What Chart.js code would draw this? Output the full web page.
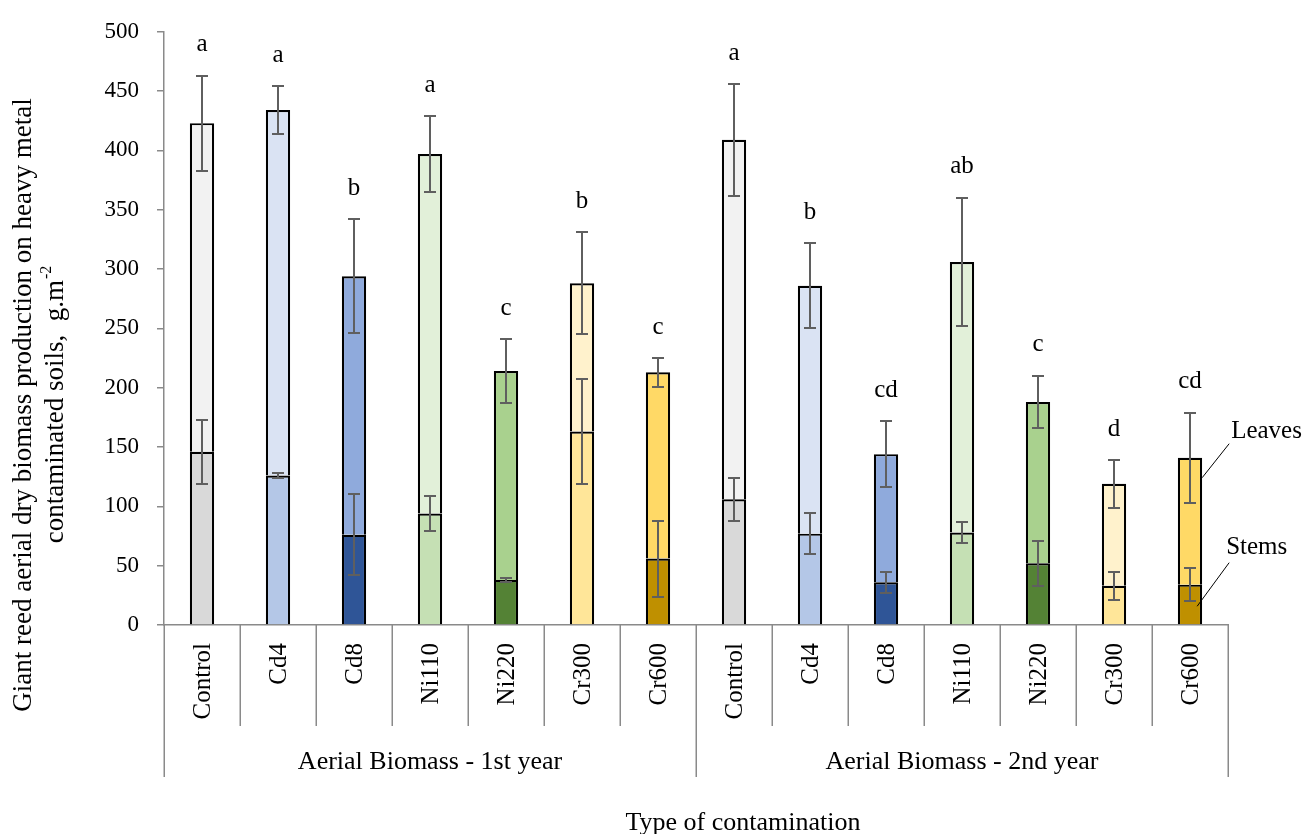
<!DOCTYPE html>
<html>
<head>
<meta charset="utf-8">
<title>Giant reed aerial biomass</title>
<script src="https://cdn.jsdelivr.net/npm/chart.js@4.4.1/dist/chart.umd.min.js"></script>
<style>
  html, body { margin: 0; padding: 0; background: #ffffff; }
  #wrap { width: 1306px; height: 834px; position: relative; }
</style>
</head>
<body>
<div id="wrap"><canvas id="chart" width="1306" height="834"></canvas></div>
<script>
// Treatments, two harvest years of seven treatments each
const treatments = ['Control', 'Cd4', 'Cd8', 'Ni110', 'Ni220', 'Cr300', 'Cr600',
                    'Control', 'Cd4', 'Cd8', 'Ni110', 'Ni220', 'Cr300', 'Cr600'];
const groups = ['Aerial Biomass - 1st year', 'Aerial Biomass - 2nd year'];

// Stem biomass (g.m-2) and its error
const stems    = [146, 126, 76, 94, 38, 163, 56,   106, 77, 36, 78, 52, 33, 34];
const stemsErr = [27, 2, 34, 15, 2, 44, 32,        18, 17, 9, 9, 19, 12, 14];

// Total aerial biomass (stems + leaves, g.m-2) and its error
const totals    = [423, 434, 294, 397, 214, 288, 213,   409, 286, 144, 306, 188, 119, 141];
const totalsErr = [40, 20, 48, 32, 27, 43, 12,          47, 36, 28, 54, 22, 20, 38];

// Significance letters above each bar
const letters = ['a', 'a', 'b', 'a', 'c', 'b', 'c', 'a', 'b', 'cd', 'ab', 'c', 'd', 'cd'];

const yTicks = { min: 0, max: 500, step: 50 };

// Fill colours per treatment (stems darker, leaves lighter)
const stemPalette = ['#D9D9D9', '#B4C7E7', '#2F5597', '#C5E0B4', '#548235', '#FFE699', '#BF9000'];
const leafPalette = ['#F2F2F2', '#DAE3F3', '#8FAADC', '#E2F0D9', '#A9D18E', '#FFF2CC', '#FFD966'];
const stemColors = treatments.map((_, i) => stemPalette[i % 7]);
const leafColors = treatments.map((_, i) => leafPalette[i % 7]);

const serif = '"Liberation Serif", "Times New Roman", serif';
const axisGray = '#8a8a8a';
const errGray = '#5f5f5f';

const overlay = {
  id: 'overlay',
  afterDatasetsDraw(chart) {
    const { ctx, scales: { x, y } } = chart;
    ctx.save();
    ctx.strokeStyle = errGray;
    ctx.lineWidth = 2;
    const whisker = (cx, v, e) => {
      const t = Math.round(y.getPixelForValue(v + e));
      const b = Math.round(y.getPixelForValue(v - e));
      ctx.beginPath();
      ctx.moveTo(cx, t); ctx.lineTo(cx, b);
      ctx.moveTo(cx - 6, t); ctx.lineTo(cx + 6, t);
      ctx.moveTo(cx - 6, b); ctx.lineTo(cx + 6, b);
      ctx.stroke();
    };
    treatments.forEach((_, i) => {
      const cx = Math.round(x.getPixelForValue(i));
      whisker(cx, stems[i], stemsErr[i]);
      whisker(cx, totals[i], totalsErr[i]);
    });

    // significance letters
    ctx.fillStyle = '#000';
    ctx.font = '25px ' + serif;
    ctx.textAlign = 'center';
    ctx.textBaseline = 'middle';
    treatments.forEach((_, i) => {
      const top = y.getPixelForValue(totals[i] + totalsErr[i]);
      ctx.fillText(letters[i], x.getPixelForValue(i), top - 31);
    });
    ctx.restore();
  },
  afterDraw(chart) {
    const { ctx, chartArea: area, scales: { x } } = chart;
    const step = x.getPixelForValue(1) - x.getPixelForValue(0);
    const base = area.bottom;
    ctx.save();

    // multi-level category axis: separators
    ctx.strokeStyle = axisGray;
    ctx.lineWidth = 1.5;
    for (let i = 0; i <= treatments.length; i++) {
      const px = Math.round(x.getPixelForValue(0) - step / 2 + i * step) + 0.25;
      const long = i % 7 === 0;
      ctx.beginPath();
      ctx.moveTo(px, base);
      ctx.lineTo(px, base + (long ? 152 : 101));
      ctx.stroke();
    }

    // category labels, rotated
    ctx.fillStyle = '#000';
    ctx.font = '25px ' + serif;
    ctx.textAlign = 'right';
    ctx.textBaseline = 'middle';
    treatments.forEach((t, i) => {
      ctx.save();
      ctx.translate(x.getPixelForValue(i) + 1, base + 18);
      ctx.rotate(-Math.PI / 2);
      ctx.fillText(t, 0, 0);
      ctx.restore();
    });

    // group labels
    ctx.textAlign = 'center';
    ctx.font = '26px ' + serif;
    groups.forEach((g, k) => {
      const cx = (x.getPixelForValue(k * 7) + x.getPixelForValue(k * 7 + 6)) / 2;
      ctx.fillText(g, cx, base + 137);
    });

    // x axis title
    ctx.fillText('Type of contamination', 743, 823);

    // y axis title, two lines with a superscript unit
    const yMid = 405;
    ctx.save();
    ctx.translate(24, yMid);
    ctx.rotate(-Math.PI / 2);
    ctx.font = '27px ' + serif;
    ctx.textAlign = 'center';
    ctx.fillText('Giant reed aerial dry biomass production on heavy metal', 0, 0);
    ctx.restore();

    ctx.save();
    ctx.translate(56, yMid);
    ctx.rotate(-Math.PI / 2);
    const main = 'contaminated soils,  g.m';
    const sup = '-2';
    ctx.font = '27px ' + serif;
    const w1 = ctx.measureText(main).width;
    ctx.font = '16px ' + serif;
    const w2 = ctx.measureText(sup).width;
    const start = -(w1 + w2) / 2;
    ctx.textAlign = 'left';
    ctx.font = '27px ' + serif;
    ctx.fillText(main, start, 0);
    ctx.font = '16px ' + serif;
    ctx.fillText(sup, start + w1 + 1, -9);
    ctx.restore();

    // callouts naming the two stacked parts on the last bar
    const last = treatments.length - 1;
    const leafBar = chart.getDatasetMeta(1).data[last];
    const stemBar = chart.getDatasetMeta(0).data[last];
    const right = leafBar.x + leafBar.width / 2;
    ctx.strokeStyle = '#000';
    ctx.lineWidth = 1;
    ctx.beginPath();
    ctx.moveTo(right, leafBar.y + 20);
    ctx.lineTo(right + 27, leafBar.y - 14);
    ctx.moveTo(right - 5, stemBar.base - 18);
    ctx.lineTo(right + 27, stemBar.y - 22);
    ctx.stroke();
    ctx.font = '25px ' + serif;
    ctx.textAlign = 'left';
    ctx.fillText('Leaves', right + 29, leafBar.y - 26);
    ctx.fillText('Stems', right + 24, stemBar.y - 37);

    ctx.restore();
  }
};

new Chart(document.getElementById('chart'), {
  type: 'bar',
  data: {
    labels: treatments,
    datasets: [
      {
        label: 'Stems',
        data: stems,
        backgroundColor: stemColors,
        borderColor: '#000',
        borderWidth: 2.2,
        borderSkipped: 'start',
        barPercentage: 0.32,
        categoryPercentage: 1
      },
      {
        label: 'Leaves',
        data: totals.map((t, i) => [stems[i], t]),
        backgroundColor: leafColors,
        borderColor: '#000',
        borderWidth: 2.2,
        borderSkipped: 'start',
        barPercentage: 0.32,
        categoryPercentage: 1
      }
    ]
  },
  options: {
    responsive: false,
    animation: false,
    layout: { padding: { left: 0, right: 78, top: 25, bottom: 0 } },
    plugins: { legend: { display: false }, tooltip: { enabled: false } },
    scales: {
      x: {
        stacked: true,
        grid: { display: false },
        border: { display: true, color: axisGray, width: 1.5 },
        ticks: { display: false },
        afterFit(s) { s.height = 209; }
      },
      y: {
        stacked: false,
        min: yTicks.min,
        max: yTicks.max,
        ticks: { stepSize: yTicks.step, color: '#000', padding: 18, font: { family: serif, size: 23 } },
        grid: { drawOnChartArea: false, drawTicks: true, tickLength: 7, color: axisGray, lineWidth: 1.5 },
        border: { display: true, color: axisGray, width: 1.5 },
        afterFit(s) { s.width = 164; }
      }
    }
  },
  plugins: [overlay]
});
</script>
</body>
</html>
